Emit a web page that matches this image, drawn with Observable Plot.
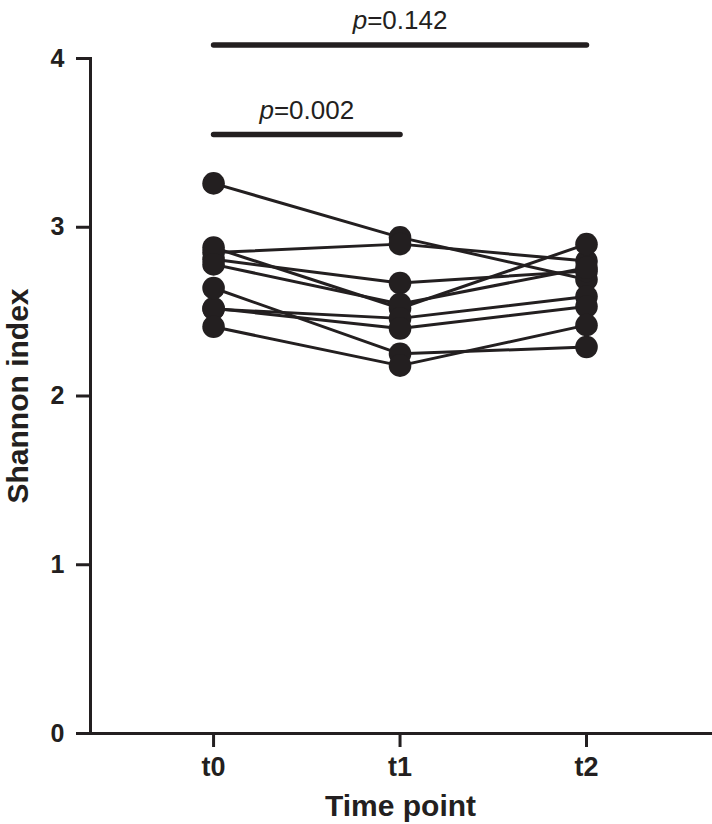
<!DOCTYPE html>
<html>
<head>
<meta charset="utf-8">
<script src="https://cdn.jsdelivr.net/npm/d3@7"></script>
<script src="https://cdn.jsdelivr.net/npm/@observablehq/plot@0.6"></script>
<style>
  html, body { margin: 0; padding: 0; background: #ffffff; }
  #chart { width: 712px; height: 824px; }
</style>
</head>
<body>
<div id="chart"></div>
<script>
// ---- data ----
const timeLabels = ["t0", "t1", "t2"];
const subjectIds = [1, 2, 3, 4, 5, 6, 7, 8, 9];
const t0Values = [3.26, 2.85, 2.81, 2.88, 2.78, 2.515, 2.52, 2.64, 2.41];
const t1Values = [2.94, 2.90, 2.67, 2.52, 2.545, 2.46, 2.40, 2.25, 2.18];
const t2Values = [2.69, 2.80, 2.74, 2.90, 2.76, 2.59, 2.53, 2.29, 2.42];
const yTicks = [0, 1, 2, 3, 4];
const comparisonFrom = [0, 0];
const comparisonTo = [2, 1];
const comparisonHeight = [4.08, 3.55];
const comparisonLabels = ["p=0.142", "p=0.002"];
const xTitle = "Time point";
const yTitle = "Shannon index";

// ---- tables built from the arrays ----
const seriesByTime = [t0Values, t1Values, t2Values];
const long = [];
subjectIds.forEach((id, s) => {
  seriesByTime.forEach((vals, t) => long.push({subject: id, time: t, value: vals[s]}));
});
const comparisons = comparisonLabels.map((label, i) => ({
  from: comparisonFrom[i], to: comparisonTo[i], height: comparisonHeight[i], label
}));

const ink = "#231f20";

const chart = Plot.plot({
  width: 712,
  height: 824,
  marginLeft: 90,
  marginRight: 2,
  marginTop: 58,
  marginBottom: 91,
  style: {fontFamily: "'Liberation Sans', Arial, Helvetica, sans-serif", fontWeight: "bold", color: ink, background: "#ffffff"},
  x: {type: "linear", domain: [-0.66, 2.665]},
  y: {domain: [0, 4]},
  marks: [
    Plot.frame({anchor: "left", stroke: ink, strokeWidth: 3}),
    Plot.frame({anchor: "bottom", stroke: ink, strokeWidth: 3}),
    Plot.axisY({ticks: yTicks, tickFormat: d3.format("d"), tickSize: 14, tickPadding: 12, strokeWidth: 3, stroke: ink, fontSize: 25, label: null}),
    Plot.axisX({ticks: [0, 1, 2], tickFormat: i => timeLabels[i], tickSize: 14, tickPadding: 9, strokeWidth: 3, stroke: ink, fontSize: 27, label: null}),
    Plot.text([yTitle], {frameAnchor: "left", textAnchor: "middle", rotate: -90, dx: -72, fontSize: 30, fontWeight: "bold", fill: ink}),
    Plot.text([xTitle], {frameAnchor: "bottom", dy: 82, lineAnchor: "bottom", fontSize: 30, fontWeight: "bold", fill: ink}),
    Plot.line(long, {x: "time", y: "value", z: "subject", stroke: ink, strokeWidth: 3}),
    Plot.dot(long, {x: "time", y: "value", r: 11.3, fill: ink, stroke: null}),
    Plot.link(comparisons, {x1: "from", x2: "to", y1: "height", y2: "height", stroke: ink, strokeWidth: 5.5, strokeLinecap: "round"}),
    Plot.text(comparisons, {x: d => (d.from + d.to) / 2, y: "height", text: "label", dy: -24, fontSize: 26, fontWeight: "normal", fill: ink, lineAnchor: "middle"})
  ]
});

document.getElementById("chart").appendChild(chart);

// italicise the leading "p" of the p-value annotations
d3.select(chart).selectAll("text").each(function() {
  const t = this.textContent;
  if (/^p=/.test(t) && this.childElementCount === 0) {
    this.textContent = "";
    const sel = d3.select(this);
    sel.append("tspan").attr("font-style", "italic").text("p");
    sel.append("tspan").text(t.slice(1));
  }
});
</script>
</body>
</html>
